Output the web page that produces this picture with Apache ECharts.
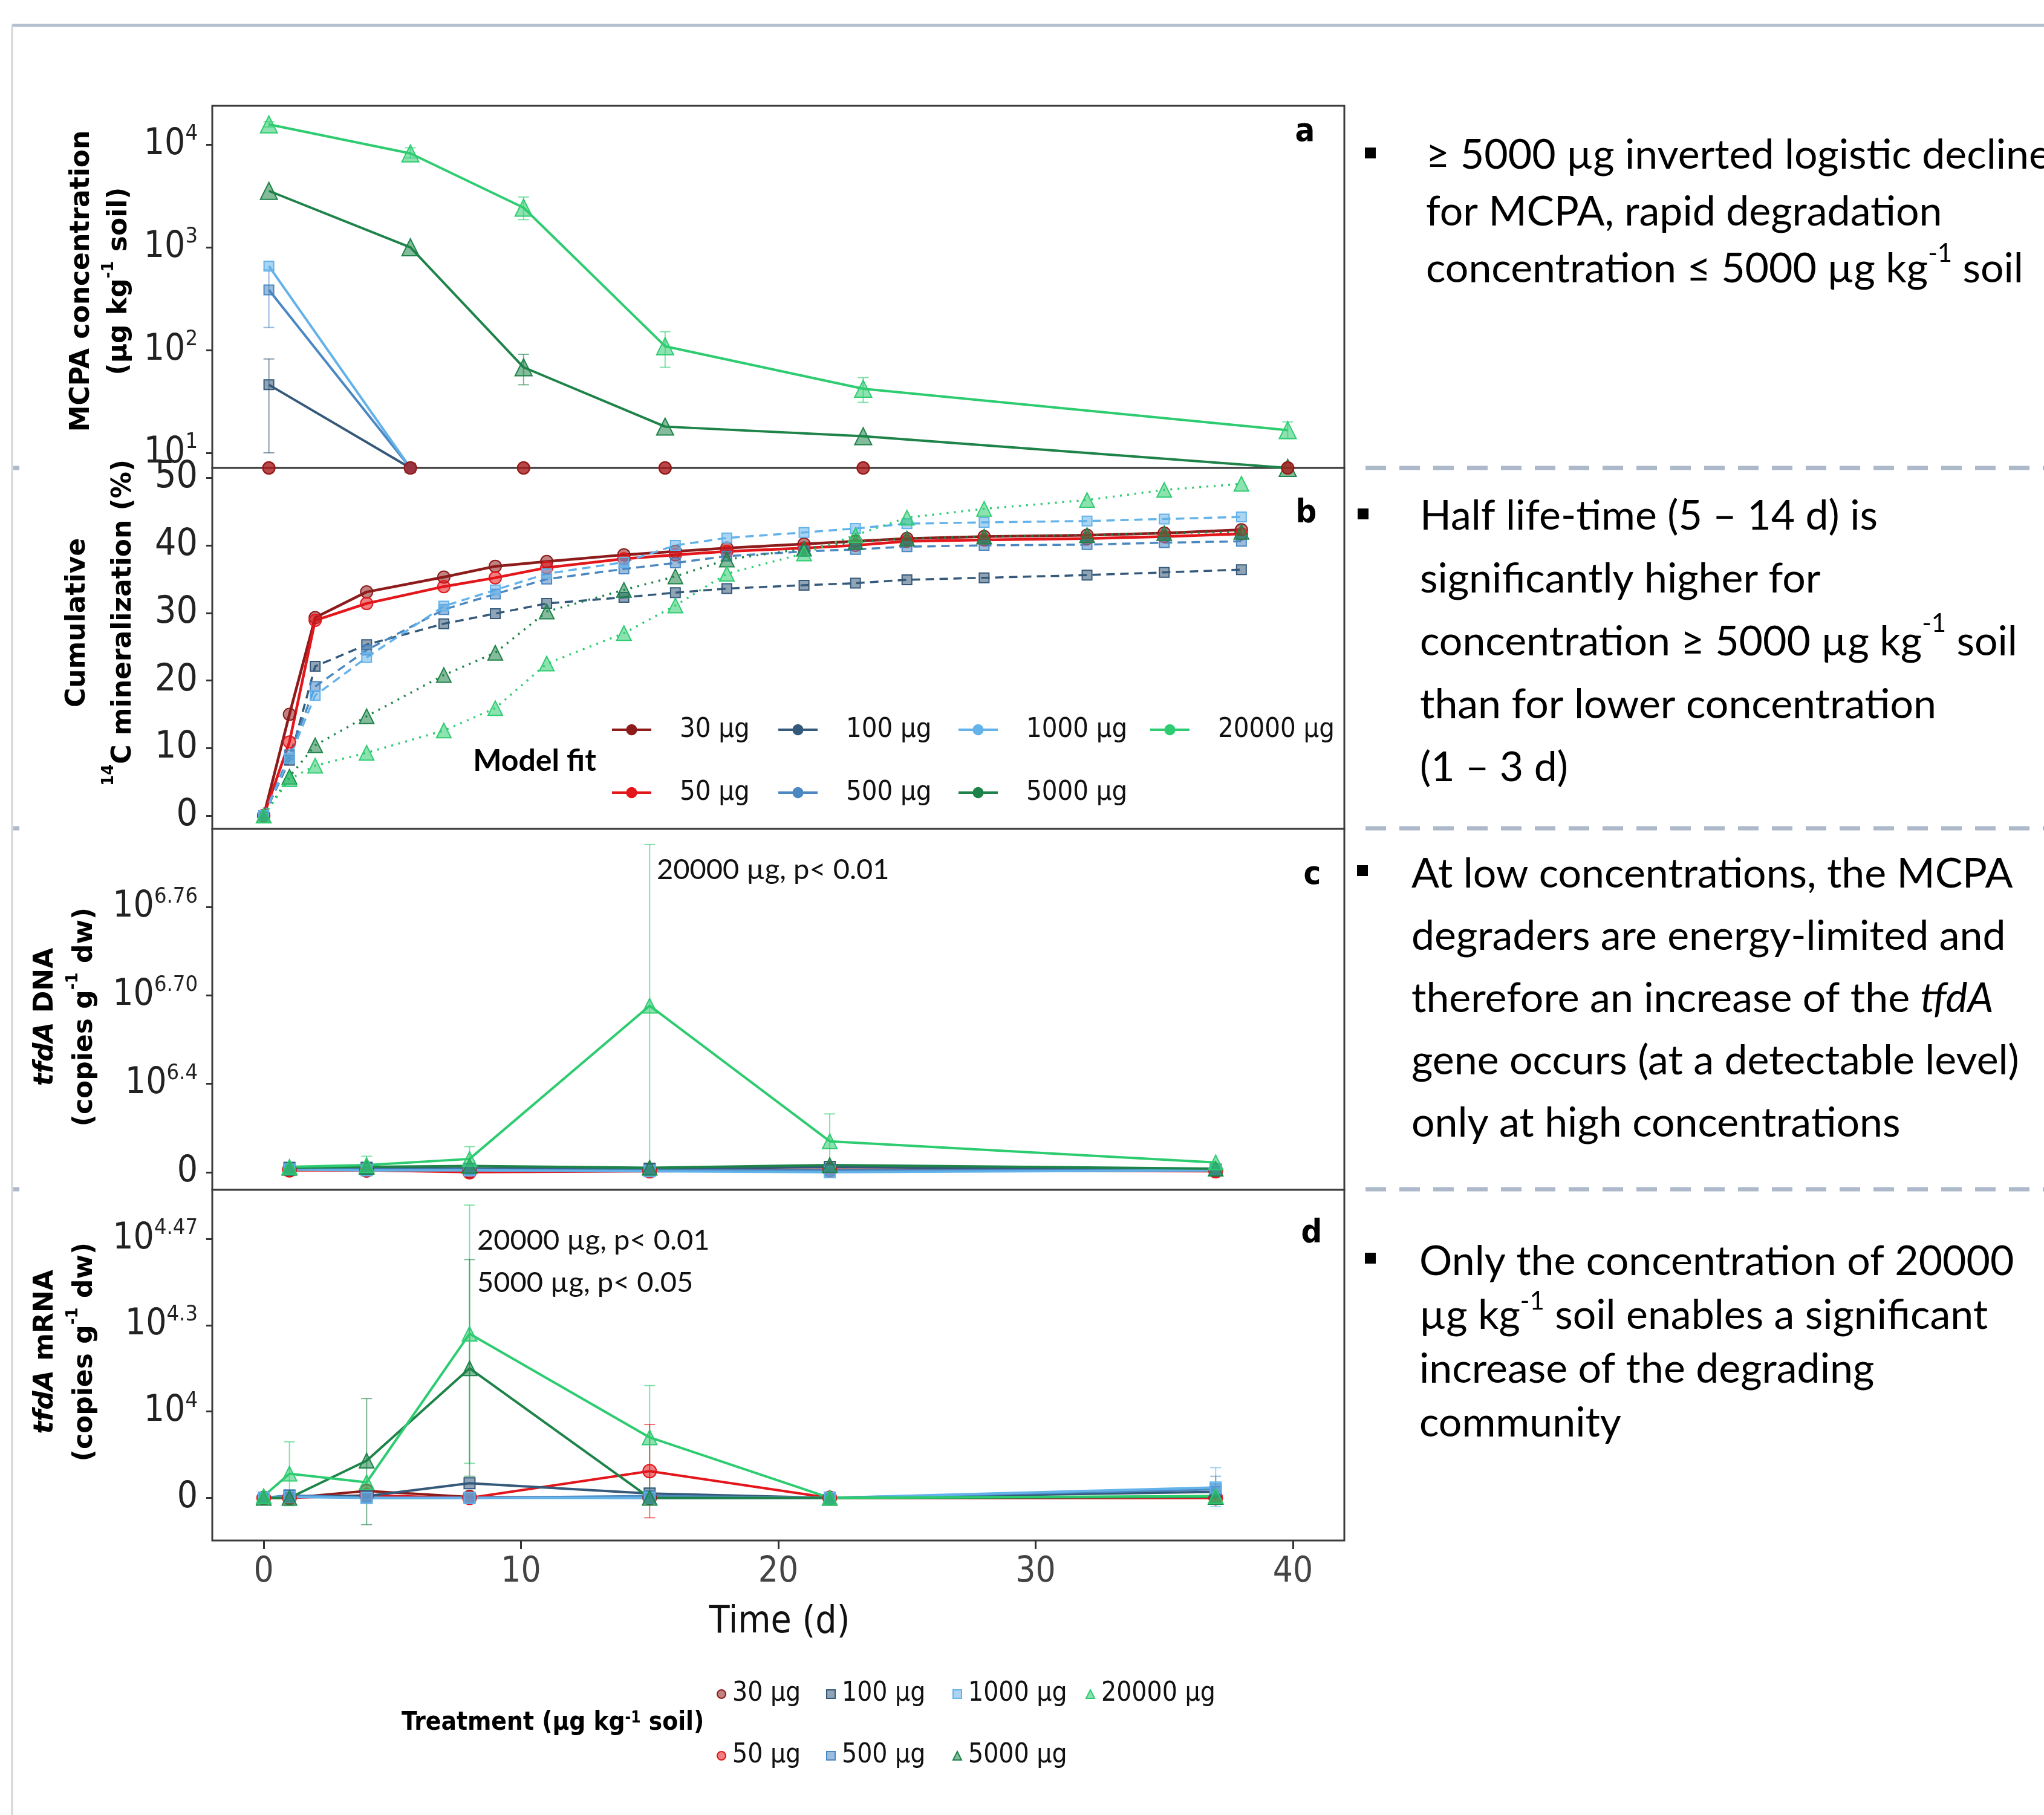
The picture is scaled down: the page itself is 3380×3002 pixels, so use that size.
<!DOCTYPE html>
<html lang="en">
<head>
<meta charset="UTF-8">
<title>MCPA degradation, mineralization and tfdA</title>
<script src="https://cdn.jsdelivr.net/npm/echarts@6.0.0/dist/echarts.min.js"></script>
<style>
  html, body { margin: 0; padding: 0; background: #fff; }
  #main { width: 3380px; height: 3002px; }
</style>
</head>
<body>
<div id="main"></div>
<script>
var NARROW = "'Liberation Sans Narrow', 'Arial Narrow', 'DejaVu Sans Condensed', 'Liberation Sans', sans-serif";
var WIDE = "'DejaVu Sans', Verdana, sans-serif";
var BODY = "Lato, 'Open Sans', sans-serif";

// treatments (µg kg-1 soil), same order in every panel
var treatments = ['30 µg', '50 µg', '100 µg', '500 µg', '1000 µg', '5000 µg', '20000 µg'];
var colors = ['#8e1b1b', '#e3161b', '#35597a', '#4b87c1', '#63b2ea', '#1d8348', '#2dcc70'];
var symbols = ['circle', 'circle', 'rect', 'rect', 'rect', 'triangle', 'triangle'];

// a: MCPA concentration (µg kg-1 soil), 0 = not detected (drawn on the floor)
var daysA = [0.2, 5.7, 10.1, 15.6, 23.3, 39.8];
var mcpa = [
  [0, 0, 0, 0, 0, 0],
  [0, 0, 0, 0, 0, 0],
  [46, 0, 0, 0, 0, 0],
  [385, 0, 0, 0, 0, 0],
  [656, 0, 0, 0, 0, 0],
  [3540, 1000, 68, 18, 14.5, 0],
  [15700, 8200, 2430, 109, 42, 16.6]
];
// [treatment, day, low, high]
var mcpaErr = [
  [6, 0.2, 14800, 16700], [6, 5.7, 7400, 9300], [6, 10.1, 1860, 3090],
  [6, 15.6, 68, 151], [6, 23.3, 31, 54], [6, 39.8, 13.8, 20],
  [5, 10.1, 46, 91], [3, 0.2, 166, 604], [2, 0.2, 10, 82]
];
var mcpaTicks = [1, 2, 3, 4];   // decades

// b: cumulative 14C mineralization (%)
var daysB = [0, 1, 2, 4, 7, 9, 11, 14, 16, 18, 21, 23, 25, 28, 32, 35, 38];
var mineral = [
  [0, 15.0, 29.3, 33.1, 35.3, 36.9, 37.6, 38.6, 39.1, 39.6, 40.2, 40.6, 41.0, 41.3, 41.5, 41.8, 42.3],
  [0, 10.9, 28.9, 31.4, 33.9, 35.2, 36.7, 38.0, 38.6, 39.1, 39.6, 40.0, 40.6, 40.8, 41.0, 41.3, 41.7],
  [0, 8.2, 22.1, 25.3, 28.4, 29.9, 31.4, 32.3, 33.0, 33.6, 34.1, 34.4, 34.9, 35.2, 35.6, 36.0, 36.4],
  [0, 9.0, 19.1, 24.5, 30.5, 32.8, 35.0, 36.5, 37.4, 38.4, 39.1, 39.4, 39.8, 40.0, 40.1, 40.4, 40.6],
  [0, 8.5, 17.8, 23.4, 31.0, 33.4, 35.8, 37.5, 40.0, 41.1, 41.9, 42.5, 43.2, 43.4, 43.6, 43.9, 44.2],
  [0, 5.75, 10.4, 14.7, 20.8, 24.1, 30.2, 33.4, 35.4, 37.9, 39.5, 40.5, 41.0, 41.3, 41.5, 41.8, 42.0],
  [0, 5.4, 7.4, 9.3, 12.6, 15.9, 22.5, 27.0, 31.1, 35.8, 38.8, 41.5, 44.1, 45.4, 46.7, 48.2, 49.1]
];
var mineralTicks = [0, 10, 20, 30, 40, 50];

// c: tfdA DNA, in units of the (evenly spaced) axis ticks
var daysC = [1, 4, 8, 15, 22, 37];
var dna = [
  [0.03, 0.02, 0.01, 0.02, 0.03, 0.02],
  [0.02, 0.02, 0.0, 0.01, 0.02, 0.01],
  [0.05, 0.05, 0.04, 0.04, 0.06, 0.03],
  [0.04, 0.03, 0.03, 0.02, 0.02, 0.02],
  [0.03, 0.02, 0.02, 0.01, 0.0, 0.02],
  [0.05, 0.06, 0.07, 0.05, 0.08, 0.04],
  [0.06, 0.08, 0.15, 1.885, 0.35, 0.11]
];
var dnaErr = [[6, 4, -0.02, 0.18], [6, 8, 0.02, 0.29], [6, 15, 0.06, 3.71], [6, 22, 0.04, 0.66]];
var dnaTickExp = [null, '6.4', '6.70', '6.76'];

// d: tfdA mRNA, in units of the (evenly spaced) axis ticks
var daysD = [0, 1, 4, 8, 15, 22, 37];
var mrna = [
  [0, 0, 0.08, 0.01, 0, 0, 0],
  [0, 0, 0.03, 0, 0.31, 0, 0],
  [0, 0.02, 0.02, 0.17, 0.05, 0, 0.07],
  [0, 0.03, 0, 0, 0.02, 0, 0.10],
  [0, 0.01, 0, 0, 0, 0, 0.12],
  [0, 0, 0.43, 1.50, 0, 0, 0.01],
  [0.02, 0.28, 0.18, 1.90, 0.70, 0, 0.02]
];
var mrnaErr = [
  [6, 1, -0.09, 0.65], [5, 4, -0.31, 1.15], [6, 8, 0.40, 3.39], [5, 8, 0.25, 2.76],
  [6, 15, 0.11, 1.30], [1, 15, -0.23, 0.85], [4, 37, -0.10, 0.35], [3, 37, -0.05, 0.25]
];
var mrnaTickExp = [null, '4', '4.3', '4.47'];

var timeTicks = [0, 10, 20, 30, 40];

var notes = [
  ['≥ 5000 µg inverted logistic decline', 'for MCPA, rapid degradation', 'concentration ≤ 5000 µg kg{s|-1} soil'],
  ['Half life-time (5 – 14 d) is', 'significantly higher for', 'concentration ≥ 5000 µg kg{s|-1} soil', 'than for lower concentration', '(1 – 3 d)'],
  ['At low concentrations, the MCPA', 'degraders are energy-limited and', 'therefore an increase of the {i|tfdA}', 'gene occurs (at a detectable level)', 'only at high concentrations'],
  ['Only the concentration of 20000', 'µg kg{s|-1} soil enables a significant', 'increase of the degrading', 'community']
];

// ---------------------------------------------------------------
var chart = echarts.init(document.getElementById('main'));

function fade(hex, a) {
  var n = parseInt(hex.slice(1), 16);
  return 'rgba(' + (n >> 16) + ',' + ((n >> 8) & 255) + ',' + (n & 255) + ',' + a + ')';
}
var A_FLOOR = 0.853;
function logA(v) { return v > 0 ? Math.log10(v) : A_FLOOR; }
function same(v) { return v; }

// panel a: after the first non-detect the curve stops; all-zero treatments only show markers on the floor
function floorRows(rows) {
  return rows.map(function (vals) {
    if (vals.every(function (v) { return v === 0; })) return vals.slice();
    var hit = false;
    return vals.map(function (v) {
      if (hit) return null;
      if (v === 0) hit = true;
      return v;
    });
  });
}

var series = [];
function addLines(panel, days, rows, tf, sizes, widths, dashes) {
  rows.forEach(function (vals, i) {
    var hideLine = vals.every(function (v) { return v === 0; }) && tf === logA;
    series.push({
      type: 'line', name: treatments[i],
      xAxisIndex: panel, yAxisIndex: panel,
      data: days.map(function (d, j) { return vals[j] === null ? [d, null] : [d, tf(vals[j])]; }),
      symbol: symbols[i], symbolSize: sizes[i],
      lineStyle: { color: colors[i], width: widths[i], opacity: hideLine ? 0 : 1, type: dashes ? dashes[i] : 'solid' },
      itemStyle: { color: fade(colors[i], 0.55), borderColor: colors[i], borderWidth: 2 },
      emphasis: { disabled: true },
      z: hideLine ? 4 - i : 2
    });
  });
}
function addErrors(panel, rows, tf) {
  series.push({
    type: 'custom', xAxisIndex: panel, yAxisIndex: panel, silent: true, clip: true, z: 1,
    data: rows.map(function (r) { return [r[1], tf(r[2]), tf(r[3]), r[0]]; }),
    encode: { x: 0, y: [1, 2] },
    renderItem: function (params, api) {
      var lo = api.coord([api.value(0), api.value(1)]);
      var hi = api.coord([api.value(0), api.value(2)]);
      var st = { stroke: fade(colors[api.value(3)], 0.6), lineWidth: 2 };
      return { type: 'group', children: [
        { type: 'line', shape: { x1: lo[0], y1: lo[1], x2: hi[0], y2: hi[1] }, style: st },
        { type: 'line', shape: { x1: lo[0] - 9, y1: lo[1], x2: lo[0] + 9, y2: lo[1] }, style: st },
        { type: 'line', shape: { x1: hi[0] - 9, y1: hi[1], x2: hi[0] + 9, y2: hi[1] }, style: st }
      ] };
    }
  });
}

var w4 = [4, 4, 4, 4, 4, 4, 4];
addErrors(0, mcpaErr, logA);
addLines(0, daysA, floorRows(mcpa), logA, [20, 20, 16, 16, 16, 28, 28], w4);
addLines(1, daysB, mineral, same, [20, 20, 16, 16, 16, 24, 24], [4.5, 4.5, 3.5, 3.5, 3.5, 3.5, 3.5],
  ['solid', 'solid', [14, 9], [14, 9], [14, 9], [3, 9], [3, 9]]);
addErrors(2, dnaErr, same);
addLines(2, daysC, dna, same, [22, 22, 18, 18, 18, 24, 24], w4);
addErrors(3, mrnaErr, same);
addLines(3, daysD, mrna, same, [22, 22, 18, 18, 18, 24, 24], w4);

var grids = [
  { left: 351, top: 175, width: 1872, height: 599 },
  { left: 351, top: 774, width: 1872, height: 597 },
  { left: 351, top: 1371, width: 1872, height: 597 },
  { left: 351, top: 1968, width: 1872, height: 580 }
].map(function (g) {
  return Object.assign({ show: true, borderColor: '#3c3c3c', borderWidth: 3, backgroundColor: '#fff' }, g);
});

var tickStyle = { color: '#333', width: 3 };
var supRich = {
  b: { fontFamily: NARROW, fontSize: 60, color: '#222', lineHeight: 70 },
  s: { fontFamily: NARROW, fontSize: 36, color: '#222', lineHeight: 44, verticalAlign: 'top' }
};

var xAxes = grids.map(function (g, k) {
  var ax = { type: 'value', gridIndex: k, min: -2, max: 42, splitLine: { show: false } };
  if (k < 3) { ax.show = false; return ax; }
  ax.position = 'bottom';
  ax.axisLine = { show: false, onZero: false };
  ax.axisTick = { show: true, customValues: timeTicks, length: 14, lineStyle: tickStyle };
  ax.axisLabel = { customValues: timeTicks, margin: 24, fontFamily: NARROW, fontSize: 58, color: '#444' };
  return ax;
});

function yAxis(k, min, max, ticks, formatter, rich) {
  return {
    type: 'value', gridIndex: k, min: min, max: max, position: 'left',
    splitLine: { show: false }, axisLine: { show: false, onZero: false },
    axisTick: { show: true, customValues: ticks, length: 10, lineStyle: tickStyle },
    axisLabel: { customValues: ticks, margin: 24, formatter: formatter, rich: rich,
      fontFamily: NARROW, fontSize: 62, color: '#222' }
  };
}
var yAxes = [
  yAxis(0, A_FLOOR, 4.377, mcpaTicks, function (v) { return '{b|10}{s|' + Math.round(v) + '}'; }, supRich),
  yAxis(1, -1.96, 51.45, mineralTicks, function (v) { return String(v); }),
  yAxis(2, -0.2, 3.887, [0, 1, 2, 3], function (v) {
    var e = dnaTickExp[Math.round(v)]; return e ? '{b|10}{s|' + e + '}' : '{b|0}';
  }, supRich),
  yAxis(3, -0.494, 3.567, [0, 1, 2, 3], function (v) {
    var e = mrnaTickExp[Math.round(v)]; return e ? '{b|10}{s|' + e + '}' : '{b|0}';
  }, supRich)
];

// legends: columns of two rows
var columns = [[0, 1], [2, 3], [4, 5], [6]];
var lineIcon = 'path://M0,8 L64,8 L64,12 L0,12 Z M32,1 A9,9 0 1 1 31.99,1 Z';
var legends = [];
var fitLeft = [1012, 1287, 1585, 1902];
var ptLeft = [1185, 1366, 1575, 1795];
columns.forEach(function (col, c) {
  legends.push({
    orient: 'vertical', left: fitLeft[c], top: 1177, itemGap: 44, padding: 0,
    itemWidth: 65, itemHeight: 20, selectedMode: false,
    textStyle: { fontFamily: NARROW, fontSize: 45, color: '#111', lineHeight: 60, padding: [0, 0, 0, 42] },
    data: col.map(function (i) {
      return { name: treatments[i], icon: lineIcon, itemStyle: { color: colors[i], borderWidth: 0 } };
    })
  });
  legends.push({
    orient: 'vertical', left: ptLeft[c], top: 2772, itemGap: 42, padding: 0,
    itemWidth: 14, itemHeight: 14, selectedMode: false,
    textStyle: { fontFamily: NARROW, fontSize: 44, color: '#111', lineHeight: 60, padding: [0, 0, 0, 6] },
    data: col.map(function (i) { return { name: treatments[i], icon: symbols[i] }; })
  });
});

// ---------------------------------------------------------------
var graphic = [];
function text(x, y, str, st, extra) {
  graphic.push(Object.assign({ type: 'text', x: x, y: y, silent: true,
    style: Object.assign({ text: str, fill: '#000' }, st) }, extra || {}));
}

// slide frame
graphic.push({ type: 'line', silent: true, shape: { x1: 20, y1: 42, x2: 3380, y2: 42 }, style: { stroke: '#b4bfd0', lineWidth: 5 } });
graphic.push({ type: 'line', silent: true, shape: { x1: 20, y1: 42, x2: 20, y2: 3002 }, style: { stroke: '#d4d4d4', lineWidth: 3 } });
[774, 1370, 1967].forEach(function (y) {
  graphic.push({ type: 'line', silent: true, shape: { x1: 2258, y1: y, x2: 3380, y2: y }, style: { stroke: '#adb9ca', lineWidth: 7, lineDash: [34, 22] } });
  graphic.push({ type: 'line', silent: true, shape: { x1: 22, y1: y, x2: 32, y2: y }, style: { stroke: '#adb9ca', lineWidth: 7 } });
});

// right-hand notes
var noteLayout = [[2358, 257, 94], [2348, 854, 104], [2334, 1446, 103], [2347, 2087, 89]];
var bullets = [[2266, 253], [2254, 850], [2253, 1440], [2266, 2081]];
notes.forEach(function (lines, k) {
  var L = noteLayout[k];
  text(L[0], L[1] - L[2] / 2, lines.join('\n'), {
    fontFamily: BODY, fontSize: 68, lineHeight: L[2], align: 'left', verticalAlign: 'top',
    rich: {
      s: { fontFamily: BODY, fontSize: 42, lineHeight: 62, verticalAlign: 'top' },
      i: { fontFamily: BODY, fontSize: 68, fontStyle: 'italic', lineHeight: L[2] }
    }
  });
  graphic.push({ type: 'rect', silent: true, shape: { x: bullets[k][0] - 9, y: bullets[k][1] - 9, width: 18, height: 18 }, style: { fill: '#000' } });
});

// panel letters
[['a', 2158, 219], ['b', 2160, 850], ['c', 2170, 1448], ['d', 2169, 2041]].forEach(function (p) {
  text(p[1], p[2], p[0], { fontFamily: NARROW, fontWeight: 'bold', fontSize: 54, align: 'center', verticalAlign: 'middle' });
});

// y-axis titles (rotated)
var titleRich = {
  s: { fontFamily: WIDE, fontWeight: 'bold', fontSize: 26, lineHeight: 40, verticalAlign: 'top' },
  i: { fontFamily: WIDE, fontWeight: 'bold', fontStyle: 'italic', fontSize: 44 }
};
[
  [167, 465, 62, ['MCPA concentration', '(µg kg{s|-1} soil)']],
  [167, 1030, 76, ['Cumulative', '{s|14}C mineralization (%)']],
  [108, 1682, 65, ['{i|tfdA} DNA', '(copies g{s|-1} dw)']],
  [108, 2236, 65, ['{i|tfdA} mRNA', '(copies g{s|-1} dw)']]
].forEach(function (t) {
  text(t[0], t[1], t[3].join('\n'), {
    fontFamily: WIDE, fontWeight: 'bold', fontSize: 44, lineHeight: t[2],
    align: 'center', verticalAlign: 'middle', rich: titleRich
  }, { rotation: Math.PI / 2 });
});

// annotations
var annot = { fontFamily: BODY, fontSize: 47, align: 'left', verticalAlign: 'middle', fill: '#111' };
text(1086, 1439, '20000 µg, p< 0.01', annot);
text(789, 2052, '20000 µg, p< 0.01', annot);
text(789, 2122, '5000 µg, p< 0.05', annot);

text(884, 1259, 'Model fit', { fontFamily: BODY, fontWeight: 'bold', fontSize: 50, align: 'center', verticalAlign: 'middle' });
text(1289, 2684, 'Time (d)', { fontFamily: NARROW, fontSize: 62, align: 'center', verticalAlign: 'middle', fill: '#111' });
text(664, 2850, 'Treatment (µg kg{s|-1} soil)', {
  fontFamily: NARROW, fontWeight: 'bold', fontSize: 42, align: 'left', verticalAlign: 'middle',
  rich: { s: { fontFamily: NARROW, fontWeight: 'bold', fontSize: 26, lineHeight: 36, verticalAlign: 'top' } }
});

var option = {
  animation: false,
  backgroundColor: '#fff',
  grid: grids,
  xAxis: xAxes,
  yAxis: yAxes,
  legend: legends,
  graphic: graphic,
  series: series
};
chart.setOption(option);
</script>
</body>
</html>
